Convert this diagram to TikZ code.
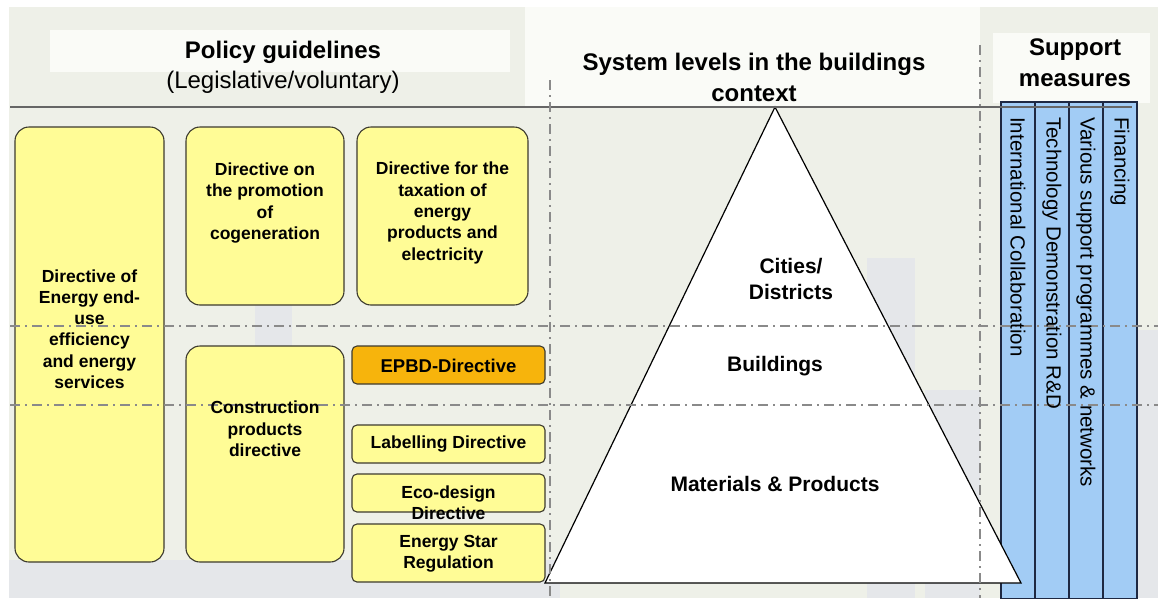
\documentclass[tikz,border=0pt]{standalone}
\usepackage{fontspec}
\setmainfont{Liberation Sans}
\definecolor{pagebg}{HTML}{EEF0E8}
\definecolor{panelwhite}{HTML}{FAFBF7}
\definecolor{hazegrey}{HTML}{E5E7EA}
\definecolor{boxyellow}{HTML}{FFFC96}
\definecolor{boxline}{HTML}{3C3A2E}
\definecolor{epbdorange}{HTML}{F7B40C}
\definecolor{colblue}{HTML}{A2CCF5}
\definecolor{colline}{HTML}{1E2842}
\definecolor{guidegrey}{HTML}{8A8A8A}
\begin{document}
\begin{tikzpicture}[x=1pt,y=-1pt,
  policy/.style={draw=boxline, line width=1.1pt, fill=boxyellow, rounded corners=14pt, inner sep=0pt},
  smallpolicy/.style={policy, rounded corners=5pt},
  boxtext/.style={align=center, inner sep=0pt, font=\fontsize{17.5}{21.3}\selectfont\bfseries},
  headbold/.style={align=center, inner sep=0pt, font=\fontsize{24}{31}\selectfont\bfseries},
  headplain/.style={align=center, inner sep=0pt, font=\fontsize{24}{30}\selectfont},
  levellabel/.style={align=center, inner sep=0pt, font=\fontsize{21}{26}\selectfont\bfseries},
  supportcol/.style={draw=colline, line width=1.2pt, fill=colblue, minimum width=34pt, minimum height=497pt, inner sep=0pt},
  supporttext/.style={rotate=-90, anchor=west, inner sep=0pt, font=\fontsize{20.5}{22}\selectfont},
  guide/.style={draw=guidegrey, line width=1.3pt, dash pattern=on 10pt off 5pt on 2pt off 5pt},
  pyramid/.style={draw=black, line width=1.2pt, fill=white, line join=miter}
]
\useasboundingbox (0,0) rectangle (1158,598);

% page background with the faded skyline behind it
\fill[white] (0,0) rectangle (1158,598);
\fill[pagebg] (9,7) rectangle (1158,598);
\fill[panelwhite] (50,30) rectangle (510,72);
\fill[panelwhite] (525,7) rectangle (980,106);
\fill[panelwhite] (993,33) rectangle (1150,103);
\fill[hazegrey] (255,288) rectangle (292,350);
\fill[hazegrey] (9,560) rectangle (560,598);
\fill[hazegrey] (867,258) rectangle (915,598);
\fill[hazegrey] (925,390) rectangle (980,598);
\fill[hazegrey] (1138,330) rectangle (1158,598);

% headings
\node[headbold] (policyhead) at (283,52) {Policy guidelines};
\node[headplain] (policysub) at (283,82) {(Legislative/voluntary)};
\node[headbold] (systemhead) at (754,77) {System levels in the buildings\\context};
\node[headbold] (supporthead) at (1075,63) {Support\\measures};

% policy boxes
\node[policy, minimum width=149pt, minimum height=435pt] (enduse) at (89.5,344.5) {};
\node[policy, minimum width=158pt, minimum height=178pt] (cogen) at (265,216) {};
\node[policy, minimum width=171pt, minimum height=178pt] (taxation) at (442.5,216) {};
\node[policy, minimum width=158pt, minimum height=216pt] (construction) at (265,454) {};
\node[smallpolicy, fill=epbdorange, minimum width=193pt, minimum height=38pt] (epbd) at (448.5,365) {};
\node[smallpolicy, minimum width=193pt, minimum height=38pt] (labelling) at (448.5,444) {};
\node[smallpolicy, minimum width=193pt, minimum height=38pt] (ecodesign) at (448.5,493) {};
\node[smallpolicy, minimum width=193pt, minimum height=58pt] (energystar) at (448.5,553) {};

% support measure columns
\node[supportcol] (intl) at (1018,350.5) {};
\node[supportcol] (techdemo) at (1052,350.5) {};
\node[supportcol] (programmes) at (1086,350.5) {};
\node[supportcol] (financing) at (1120,350.5) {};

% system levels pyramid, its base corner lying over the first column
\coordinate (apex) at (775,107);
\coordinate (baseL) at (545,583);
\coordinate (baseR) at (1021,583);
\draw[pyramid] (apex) -- (baseL) -- (baseR) -- cycle;

% heading rule
\coordinate (ruleL) at (10,107);
\coordinate (ruleR) at (1132,107);
\draw[draw=black!60, line width=1.1pt] (ruleL) -- (ruleR);

% dash-dot guide lines between system levels
\coordinate (g1L) at (10,326);
\coordinate (g1R) at (1158,326);
\coordinate (g2L) at (10,405);
\coordinate (g2R) at (1158,405);
\coordinate (v1T) at (550,80);
\coordinate (v1B) at (550,598);
\coordinate (v2T) at (980,45);
\coordinate (v2B) at (980,598);
\draw[guide] (g1L) -- (g1R);
\draw[guide] (g2L) -- (g2R);
\draw[guide] (v1T) -- (v1B);
\draw[guide] (v2T) -- (v2B);

% box texts
\node[boxtext] (enduseT) at (89.5,329) {Directive of\\Energy end-\\use\\efficiency\\and energy\\services};
\node[boxtext] (cogenT) at (265,203) {Directive on\\the promotion\\of\\cogeneration};
\node[boxtext] (taxationT) at (442.5,213) {Directive for the\\taxation of\\energy\\products and\\electricity};
\node[boxtext] (constructionT) at (265,429) {Construction\\products\\directive};
\node[boxtext, font=\fontsize{18.5}{22}\selectfont\bfseries] (epbdT) at (448.5,366) {EPBD-Directive};
\node[boxtext] (labellingT) at (448.5,444) {Labelling Directive};
\node[boxtext] (ecodesignT) at (448.5,503) {Eco-design\\Directive};
\node[boxtext] (energystarT) at (448.5,554) {Energy Star\\Regulation};

% level labels
\node[levellabel] (citiesT) at (791,279) {Cities/\\Districts};
\node[levellabel] (buildingsT) at (775,366) {Buildings};
\node[levellabel] (materialsT) at (775,484) {Materials \& Products};

% support measure texts
\node[supporttext] (intlT) at (1018,117) {International Collaboration};
\node[supporttext] (techdemoT) at (1052,117) {Technology Demonstration R\&D};
\node[supporttext] (programmesT) at (1086,117) {Various support programmes \& networks};
\node[supporttext] (financingT) at (1120,117) {Financing};
\end{tikzpicture}
\end{document}
